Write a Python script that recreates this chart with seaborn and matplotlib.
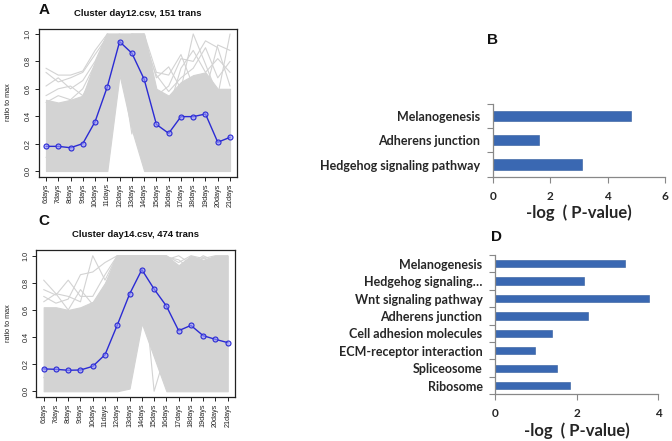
import numpy as np
import pandas as pd
import matplotlib
matplotlib.use("Agg")
import matplotlib.pyplot as plt
import seaborn as sns

# ---------------- data ----------------
days = ["6days", "7days", "8days", "9days", "10days", "11days", "12days", "13days",
        "14days", "15days", "16days", "17days", "18days", "19days", "20days", "21days"]

a_title = "Cluster day12.csv, 151 trans"
a_mean = [0.18, 0.18, 0.17, 0.20, 0.36, 0.615, 0.944, 0.86, 0.67, 0.34, 0.275, 0.397,
          0.397, 0.416, 0.21, 0.246]
a_band_low = [0, 0, 0, 0, 0, 0, 0.70, 0.30, 0, 0, 0, 0, 0, 0, 0, 0]
a_band_high = [0.52, 0.50, 0.52, 0.55, 0.80, 1.0, 1.0, 1.0, 1.0, 0.60, 0.55, 0.65,
               0.70, 0.72, 0.60, 0.60]
a_trace1 = [0.75, 0.70, 0.70, 0.73, 0.88, 1.0, 1.0, 1.0, 1.0, 0.72, 0.70, 0.85, 0.62, 0.58, 0.92, 0.88]
a_trace2 = [0.72, 0.65, 0.68, 0.72, 0.85, 0.98, 0.95, 1.0, 0.98, 0.68, 0.76, 0.60, 1.0, 0.78, 0.55, 1.0]
a_trace3 = [0.62, 0.68, 0.60, 0.66, 0.80, 1.0, 0.92, 1.0, 1.0, 0.55, 0.62, 0.82, 0.80, 0.95, 0.90, 0.62]
a_trace4 = [0.55, 0.60, 0.62, 0.55, 0.72, 0.95, 1.0, 0.90, 0.92, 0.70, 0.58, 0.68, 0.75, 0.90, 0.68, 0.80]
a_trace5 = [0.50, 0.55, 0.52, 0.60, 0.78, 1.0, 0.96, 0.96, 1.0, 0.50, 0.45, 0.75, 0.88, 0.72, 0.82, 0.72]
a_trace6 = [0.10, 0.10, 0.15, 0.20, 0.50, 0.90, 0.85, 0.27, 0.80, 0.40, 0.20, 0.30, 0.20, 0.30, 0.10, 0.20]

c_title = "Cluster day14.csv, 474 trans"
c_mean = [0.165, 0.162, 0.155, 0.157, 0.184, 0.27, 0.489, 0.717, 0.897, 0.754, 0.629,
          0.447, 0.486, 0.41, 0.383, 0.359]
c_band_low = [0, 0, 0, 0, 0, 0, 0, 0.02, 0.50, 0.25, 0, 0, 0, 0, 0, 0]
c_band_high = [0.62, 0.62, 0.60, 0.62, 0.66, 0.80, 1.0, 1.0, 1.0, 1.0, 1.0, 0.93,
               1.0, 0.97, 1.0, 1.0]
c_trace1 = [0.82, 0.72, 0.70, 0.66, 1.00, 0.82, 1.0, 1.0, 1.0, 1.0, 1.0, 0.95, 1.0, 0.98, 1.0, 1.0]
c_trace2 = [0.75, 0.71, 0.82, 0.70, 0.70, 0.86, 1.0, 1.0, 1.0, 1.0, 0.97, 1.0, 0.94, 1.0, 0.96, 0.98]
c_trace3 = [0.70, 0.65, 0.68, 0.86, 0.88, 0.95, 1.0, 1.0, 1.0, 1.0, 1.0, 0.88, 0.99, 0.92, 0.99, 0.95]
c_trace4 = [0.66, 0.72, 0.60, 0.75, 0.64, 0.78, 1.0, 1.0, 1.0, 1.0, 0.99, 0.97, 0.90, 0.99, 0.93, 1.0]
c_trace5 = [0.10, 0.20, 0.10, 0.15, 0.20, 0.40, 0.90, 1.0, 0.95, 0.0, 0.30, 0.50, 0.40, 0.30, 0.40, 0.20]

b_terms = ["Melanogenesis", "Adherens junction", "Hedgehog signaling pathway"]
b_vals = [4.83, 1.59, 3.10]
b_ticks = [0, 2, 4, 6]

d_terms = ["Melanogenesis", "Hedgehog signaling\u2026", "Wnt signaling pathway",
           "Adherens junction", "Cell adhesion molecules", "ECM-receptor interaction",
           "Spliceosome", "Ribosome"]
d_vals = [3.18, 2.18, 3.77, 2.28, 1.41, 0.97, 1.51, 1.83]
d_ticks = [0, 2, 4]

xlab = "-log  ( P-value)"

# ---------------- style ----------------
sns.set_theme(style="white")
plt.rcParams['font.family'] = ['Liberation Sans', 'DejaVu Sans']

W, H = 672, 441
fig = plt.figure(figsize=(W / 100, H / 100), dpi=100)


def px_axes(l, t, r, b):
    return fig.add_axes([l / W, 1 - b / H, (r - l) / W, (b - t) / H])


GRAY = "#d3d3d3"
BLUE = "#2b2bd4"


def r_panel(ax, mean, low, high, traces, title, title_y, ylab_x):
    x = np.arange(len(days))
    ax.fill_between(x, low, high, color=GRAY, lw=0.8, zorder=1)
    rows = []
    for k, tr in enumerate(traces):
        for i, v in enumerate(tr):
            rows.append({"trace": k, "pos": i, "val": v})
    tdf = pd.DataFrame(rows)
    sns.lineplot(data=tdf, x="pos", y="val", units="trace", estimator=None,
                 color=GRAY, lw=0.8, ax=ax, zorder=2, legend=False)
    mdf = pd.DataFrame({"pos": x, "val": mean})
    sns.lineplot(data=mdf, x="pos", y="val", color=BLUE, lw=1.0, marker="o",
                 markersize=3.6, markerfacecolor=(0.6, 0.6, 1.0, 0.6),
                 markeredgecolor=BLUE, markeredgewidth=0.8, ax=ax, zorder=3)
    ax.set_xlim(-0.6, len(days) - 0.4)
    ax.set_ylim(-0.04, 1.04)
    ax.set_xticks(x)
    ax.set_xticklabels(days, rotation=90, fontsize=5.2)
    ax.set_yticks([0, 0.2, 0.4, 0.6, 0.8, 1.0])
    ax.set_yticklabels(["0.0", "0.2", "0.4", "0.6", "0.8", "1.0"], rotation=90,
                       va="center", fontsize=5.2)
    ax.tick_params(axis="both", direction="out", length=3, width=0.7, pad=2,
                   colors="#222222", bottom=True, left=True)
    for s in ax.spines.values():
        s.set_visible(True)
        s.set_color("#222222")
        s.set_linewidth(0.9)
    ax.set_xlabel("")
    ax.set_ylabel("ratio to max", fontsize=5.2, color="#222222")
    ax.yaxis.set_label_coords(ylab_x, 0.5)
    ax.text(0.5, title_y, title, transform=ax.transAxes, ha="center", va="center",
            fontsize=6.8, fontweight="bold", color="#111111")


axA = px_axes(38.6, 28.5, 237.4, 176.5)
r_panel(axA, a_mean, a_band_low, a_band_high,
        [a_trace1, a_trace2, a_trace3, a_trace4, a_trace5, a_trace6],
        a_title, 1.103, -0.134)

axC = px_axes(36.3, 250.3, 235.1, 396.7)
r_panel(axC, c_mean, c_band_low, c_band_high,
        [c_trace1, c_trace2, c_trace3, c_trace4, c_trace5],
        c_title, 1.109, -0.122)

BAR = "#3a68b2"
EXF = ['Lato', 'DejaVu Sans']


def bar_panel(ax, terms, vals, ticks, label_fs):
    df = pd.DataFrame({"term": terms, "val": vals})
    sns.barplot(data=df, y="term", x="val", orient="h", color=BAR, width=0.42,
                saturation=1, ax=ax, edgecolor="#2f5a9c", linewidth=0.4)
    n = len(terms)
    ax.set_ylim(n - 0.5, -0.5)
    ax.set_xlim(ticks[0], ticks[-1])
    ax.set_xticks(ticks)
    ax.set_xticklabels([str(t) for t in ticks], fontsize=8.5, fontweight="bold",
                       family=EXF)
    ax.set_yticks(np.arange(-0.5, n, 1.0))
    ax.set_yticklabels([])
    ax.set_yticks(np.arange(n), minor=True)
    ax.set_yticklabels(terms, minor=True, fontsize=label_fs, fontweight="bold",
                       family=EXF)
    ax.tick_params(axis="y", which="minor", length=0, pad=9)
    ax.tick_params(axis="y", which="major", direction="out", length=4, width=0.8,
                   color="#888888", left=True)
    ax.tick_params(axis="x", direction="out", length=4, width=0.8, color="#888888",
                   bottom=True, pad=6)
    for k in ["top", "right"]:
        ax.spines[k].set_visible(False)
    for k in ["left", "bottom"]:
        ax.spines[k].set_visible(True)
        ax.spines[k].set_color("#888888")
        ax.spines[k].set_linewidth(0.9)
    ax.set_ylabel("")
    ax.set_xlabel(xlab, fontsize=12, fontweight="bold", family=EXF, labelpad=2)
    ax.grid(False)


axB = px_axes(493, 104, 665, 176.7)
bar_panel(axB, b_terms, b_vals, b_ticks, 9)

axD = px_axes(495, 255, 658, 394.3)
bar_panel(axD, d_terms, d_vals, d_ticks, 9)


def letter(s, x, y):
    fig.text(x / W, 1 - y / H, s, fontsize=11, fontweight="bold", ha="center",
             va="center", color="#111111")


letter("A", 44, 10.5)
letter("C", 44, 221)
letter("B", 493, 40)
letter("D", 497, 237)

fig.savefig("out.png", dpi=100)
